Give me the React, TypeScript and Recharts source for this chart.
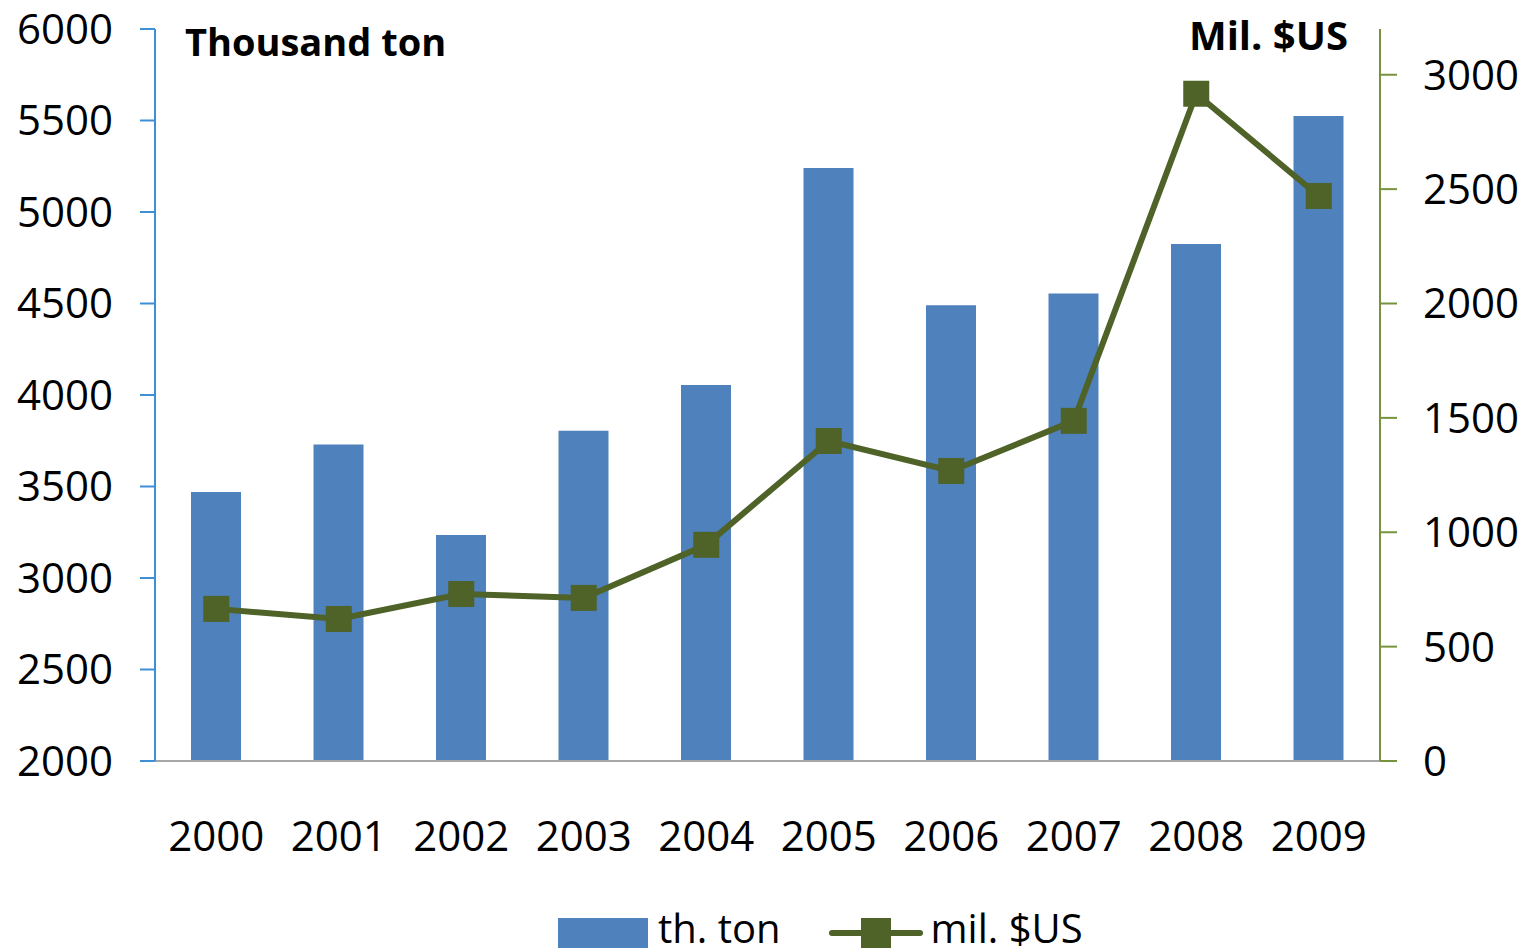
import { ComposedChart, Bar, Line, XAxis, YAxis, Legend } from 'recharts';

const years = ['2000', '2001', '2002', '2003', '2004', '2005', '2006', '2007', '2008', '2009'];
const thTon = [3470, 3730, 3235, 3805, 4055, 5240, 4490, 4555, 4825, 5525];
const milUsd = [665, 621, 730, 713, 945, 1399, 1268, 1487, 2917, 2470];

const leftTicks = [2000, 2500, 3000, 3500, 4000, 4500, 5000, 5500, 6000];
const rightTicks = [0, 500, 1000, 1500, 2000, 2500, 3000];

const BAR_COLOR = '#4F81BD';
const LINE_COLOR = '#4F6228';
const FONT = '"Open Sans", sans-serif';

const data = years.map((year, i) => ({
  year,
  ton: thTon[i],
  usd: milUsd[i],
}));

const SquareDot = (props: any) => {
  const { cx, cy } = props;
  if (cx == null || cy == null) return null;
  return <rect x={cx - 13} y={cy - 13} width={26} height={26} fill={LINE_COLOR} />;
};

const ChartLegend = () => (
  <div
    style={{
      display: 'flex',
      alignItems: 'center',
      justifyContent: 'flex-start',
      fontFamily: FONT,
      fontSize: 40,
      color: '#000',
      height: 60,
      boxSizing: 'border-box',
      paddingTop: 12,
      paddingLeft: 558,
      lineHeight: 1,
    }}
  >
    <span style={{ display: 'inline-block', width: 90, height: 30, background: BAR_COLOR, marginRight: 10, position: 'relative', top: 5 }} />
    <span style={{ marginRight: 48 }}>th. ton</span>
    <svg width={94} height={34} style={{ marginRight: 8, position: 'relative', top: 5 }}>
      <line x1={3} y1={17} x2={91} y2={17} stroke={LINE_COLOR} strokeWidth={6} strokeLinecap="round" />
      <rect x={32} y={2} width={30} height={30} fill={LINE_COLOR} />
    </svg>
    <span>mil. $US</span>
  </div>
);

export default function App() {
  const tick = { fill: '#000', fontSize: 42, fontFamily: FONT };
  return (
    <div style={{ position: 'relative', width: 1526, height: 952 }}>
      <style>{'body{margin:0}'}</style>
      <ComposedChart
        width={1526}
        height={952}
        data={data}
        margin={{ top: 29, right: 0, left: 0, bottom: 0 }}
        barCategoryGap={0}
      >
        <XAxis
          dataKey="year"
          tick={tick}
          tickLine={false}
          tickSize={0}
          tickMargin={60}
          height={131}
          axisLine={{ stroke: '#A6A6A6', strokeWidth: 2 }}
          interval={0}
        />
        <YAxis
          yAxisId="left"
          orientation="left"
          domain={[2000, 6000]}
          ticks={leftTicks}
          width={155}
          tick={tick}
          tickSize={15}
          tickMargin={27}
          interval={0}
          axisLine={{ stroke: '#3D8FD6', strokeWidth: 2 }}
          tickLine={{ stroke: '#3D8FD6', strokeWidth: 2 }}
          allowDataOverflow
        />
        <YAxis
          yAxisId="right"
          orientation="right"
          domain={[0, 3200]}
          ticks={rightTicks}
          width={146}
          tick={tick}
          tickSize={17}
          tickMargin={26}
          interval={0}
          axisLine={{ stroke: '#77933C', strokeWidth: 2 }}
          tickLine={{ stroke: '#77933C', strokeWidth: 2 }}
          allowDataOverflow
        />
        <Legend verticalAlign="bottom" height={60} content={<ChartLegend />} />
        <Bar yAxisId="left" dataKey="ton" name="th. ton" fill={BAR_COLOR} barSize={50} isAnimationActive={false} />
        <Line
          yAxisId="right"
          dataKey="usd"
          name="mil. $US"
          stroke={LINE_COLOR}
          strokeWidth={6}
          dot={<SquareDot />}
          activeDot={false}
          isAnimationActive={false}
        />
      </ComposedChart>
      <div
        style={{
          position: 'absolute',
          left: 185,
          top: 15,
          fontFamily: FONT,
          fontWeight: 700,
          fontSize: 38,
          color: '#000',
          whiteSpace: 'nowrap',
        }}
      >
        Thousand ton
      </div>
      <div
        style={{
          position: 'absolute',
          right: 1526 - 1348,
          top: 7,
          fontFamily: FONT,
          fontWeight: 700,
          fontSize: 40,
          color: '#000',
          whiteSpace: 'nowrap',
        }}
      >
        Mil. $US
      </div>
    </div>
  );
}
